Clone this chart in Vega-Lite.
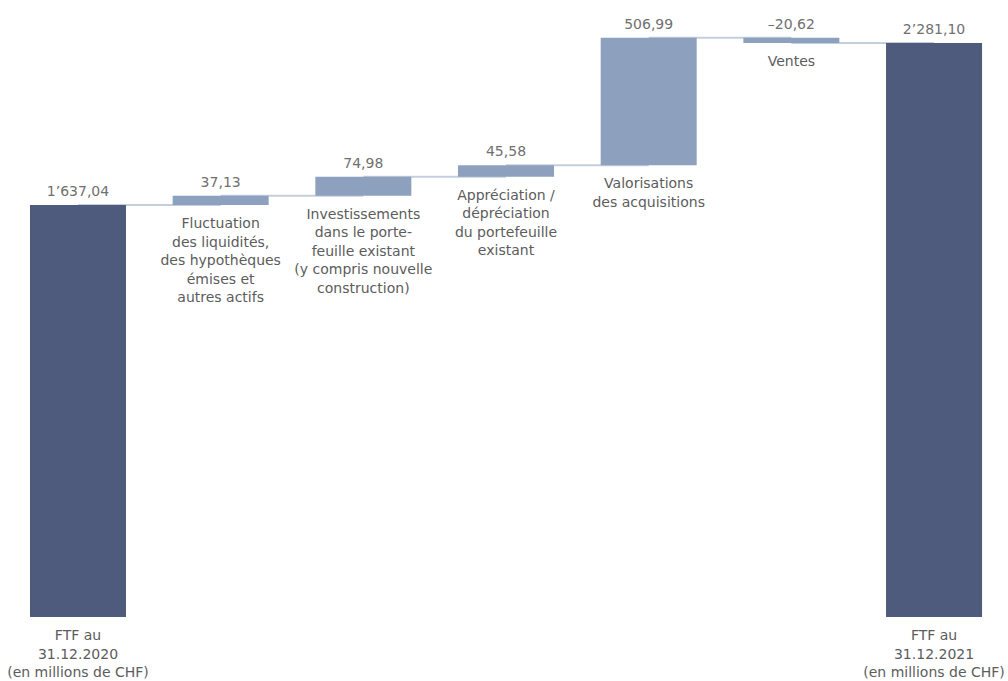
{
  "$schema": "https://vega.github.io/schema/vega-lite/v6.json",
  "width": 1008,
  "height": 617,
  "autosize": {"type": "none"},
  "padding": {"left": 0, "top": 0, "right": 0, "bottom": 64},
  "background": "white",
  "config": {"view": {"stroke": null}, "font": "DejaVu Sans"},
  "data": {
    "values": [
      {"id": "a", "next": "b", "kind": "total", "start": 0, "end": 1637.04, "hi": 1637.04, "lo": 0, "value": "1’637,04", "label": "FTF au\n31.12.2020\n(en millions de CHF)"},
      {"id": "b", "next": "c", "kind": "delta", "start": 1637.04, "end": 1674.17, "hi": 1674.17, "lo": 1637.04, "value": "37,13", "label": "Fluctuation\ndes liquidités,\ndes hypothèques\némises et\nautres actifs"},
      {"id": "c", "next": "d", "kind": "delta", "start": 1674.17, "end": 1749.15, "hi": 1749.15, "lo": 1674.17, "value": "74,98", "label": "Investissements\ndans le porte-\nfeuille existant\n(y compris nouvelle\nconstruction)"},
      {"id": "d", "next": "e", "kind": "delta", "start": 1749.15, "end": 1794.73, "hi": 1794.73, "lo": 1749.15, "value": "45,58", "label": "Appréciation /\ndépréciation\ndu portefeuille\nexistant"},
      {"id": "e", "next": "f", "kind": "delta", "start": 1794.73, "end": 2301.72, "hi": 2301.72, "lo": 1794.73, "value": "506,99", "label": "Valorisations\ndes acquisitions"},
      {"id": "f", "next": "g", "kind": "delta", "start": 2301.72, "end": 2281.10, "hi": 2301.72, "lo": 2281.10, "value": "–20,62", "label": "Ventes"},
      {"id": "g", "next": null, "kind": "total", "start": 0, "end": 2281.10, "hi": 2281.10, "lo": 0, "value": "2’281,10", "label": "FTF au\n31.12.2021\n(en millions de CHF)"}
    ]
  },
  "encoding": {
    "x": {
      "field": "id",
      "type": "nominal",
      "axis": null,
      "scale": {"domain": ["a", "b", "c", "d", "e", "f", "g"], "paddingInner": 0.327, "paddingOuter": 0.196, "align": 0.536}
    }
  },
  "layer": [
    {
      "transform": [{"filter": "datum.next != null"}],
      "mark": {"type": "rule", "color": "#c3cede", "strokeWidth": 2},
      "encoding": {
        "x2": {"field": "next"},
        "y": {"field": "end", "type": "quantitative", "axis": null, "scale": {"domain": [0, 2451.6], "nice": false, "zero": true}}
      }
    },
    {
      "mark": {"type": "bar", "width": 96},
      "encoding": {
        "y": {"field": "end", "type": "quantitative", "axis": null, "scale": {"domain": [0, 2451.6], "nice": false, "zero": true}},
        "y2": {"field": "start"},
        "color": {"field": "kind", "type": "nominal", "legend": null, "scale": {"domain": ["total", "delta"], "range": ["#4f5b7d", "#8da1be"]}}
      }
    },
    {
      "mark": {"type": "text", "baseline": "alphabetic", "dy": -9, "fontSize": 14, "color": "#707070"},
      "encoding": {
        "y": {"field": "hi", "type": "quantitative"},
        "text": {"field": "value"}
      }
    },
    {
      "mark": {"type": "text", "baseline": "middle", "dy": 19, "fontSize": 14, "color": "#5c5c5c", "lineBreak": "\n", "lineHeight": 18.5},
      "encoding": {
        "y": {"field": "lo", "type": "quantitative"},
        "text": {"field": "label"}
      }
    }
  ]
}
